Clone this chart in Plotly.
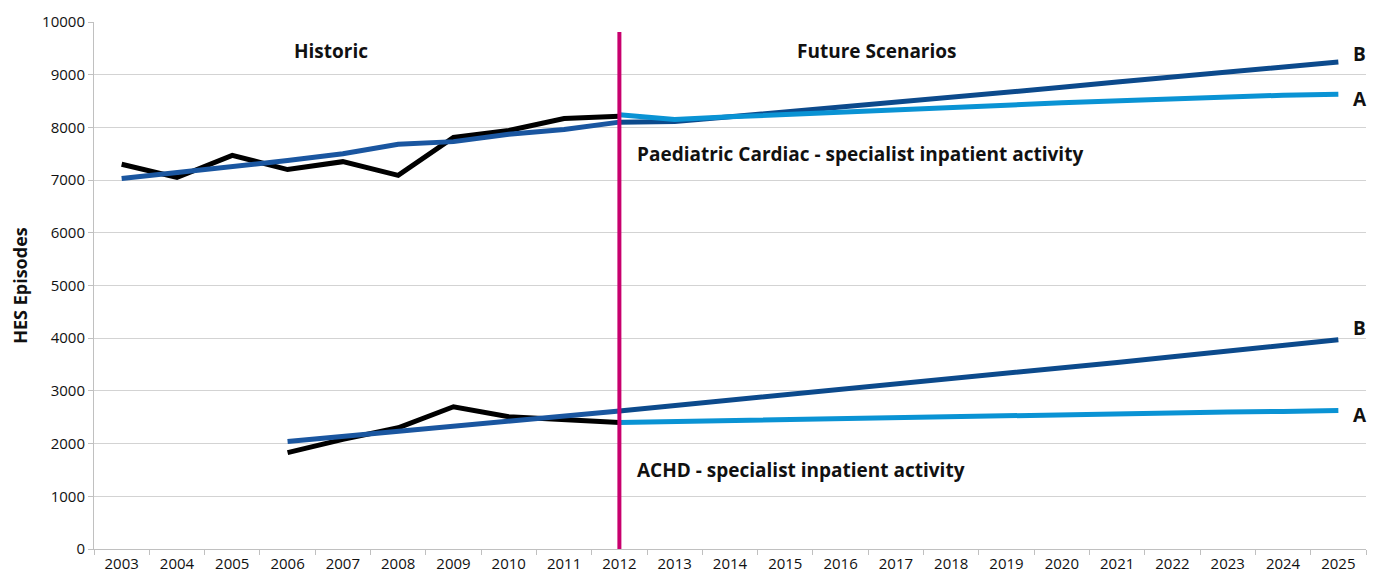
import plotly.graph_objects as go

years = [str(y) for y in range(2003, 2026)]

# Paediatric Cardiac
paed_hist = [7300, 7050, 7470, 7200, 7350, 7090, 7810, 7940, 8170, 8210] + [None] * 13
paed_trend = [7030, 7140, 7240, 7370, 7500, 7680, 7730, 7870, 7960, 8100] + [None] * 13
paed_B = [None] * 9 + [8100, 8110, 8200, 8290, 8380, 8470, 8570, 8660, 8760, 8860, 8960, 9060, 9150, 9240]
paed_A = [None] * 9 + [8240, 8150, 8200, 8240, 8280, 8330, 8370, 8420, 8470, 8510, 8550, 8590, 8610, 8630]

# ACHD
achd_hist = [None] * 3 + [1830, 2080, 2300, 2700, 2510, 2460, 2400] + [None] * 13
achd_trend = [None] * 3 + [2040, 2140, 2240, 2330, 2430, 2530, 2620] + [None] * 13
achd_B = [None] * 9 + [2620, 2720, 2820, 2920, 3020, 3120, 3220, 3330, 3430, 3540, 3650, 3750, 3860, 3970]
achd_A = [None] * 9 + [2400, 2420, 2440, 2460, 2480, 2490, 2510, 2520, 2540, 2560, 2580, 2600, 2610, 2630]

BLACK = "#000000"
TREND = "#1a56a0"
DARK = "#0c4a8c"
LIGHT = "#0a93d4"
MAGENTA = "#c8006e"
W = 5
FAM = "Open Sans, Noto Sans, sans-serif"

fig = go.Figure()
for ys, col in [
    (paed_hist, BLACK), (achd_hist, BLACK),
    (paed_trend, TREND), (achd_trend, TREND),
    (paed_B, DARK), (achd_B, DARK),
    (paed_A, LIGHT), (achd_A, LIGHT),
]:
    fig.add_trace(go.Scatter(x=years, y=ys, mode="lines",
                             line=dict(color=col, width=W),
                             connectgaps=False, showlegend=False, hoverinfo="skip"))

split = years.index("2012")
fig.add_shape(type="line", xref="x", yref="y", x0=split, x1=split, y0=0, y1=9810,
              line=dict(color=MAGENTA, width=4), layer="above")

fnt = dict(family=FAM, size=19, color="#111111", weight="bold")
ann = [
    dict(x=3.78, y=9450, text="Historic", xanchor="center"),
    dict(x=13.66, y=9450, text="Future Scenarios", xanchor="center"),
    dict(x=9.28, y=7490, text="Paediatric Cardiac - specialist inpatient activity", xanchor="left"),
    dict(x=9.28, y=1490, text="ACHD - specialist inpatient activity", xanchor="left"),
    dict(x=22, y=paed_B[-1], text="B", xanchor="left", xshift=13, yshift=8),
    dict(x=22, y=paed_A[-1], text="A", xanchor="left", xshift=13, yshift=-5),
    dict(x=22, y=achd_B[-1], text="B", xanchor="left", xshift=13, yshift=12),
    dict(x=22, y=achd_A[-1], text="A", xanchor="left", xshift=13, yshift=-5),
]
for a in ann:
    fig.add_annotation(xref="x", yref="y", showarrow=False, yanchor="middle", font=fnt, **a)

fig.update_layout(
    width=1368, height=568,
    margin=dict(l=86, r=10, t=14, b=27),
    plot_bgcolor="white", paper_bgcolor="white",
    font=dict(family=FAM, size=15, color="#111111"),
)
fig.update_xaxes(type="category", tickson="boundaries", ticks="outside", ticklen=5,
                 tickcolor="#c0c0c0", showline=True, linecolor="#c0c0c0", linewidth=1,
                 showgrid=False, tickfont=dict(size=15), range=[-0.5, 22.5],
                 ticklabelstandoff=1, automargin=False)
fig.update_yaxes(range=[0, 10000], dtick=1000, tickformat="d", ticks="outside", ticklen=5,
                 tickcolor="#c0c0c0", showline=True, linecolor="#c0c0c0",
                 gridcolor="#d3d3d3", gridwidth=1, zeroline=False,
                 tickfont=dict(size=15), automargin=False,
                 title=dict(text="HES Episodes", standoff=10,
                            font=dict(size=18, weight="bold", family=FAM)))

fig.write_html("out.html")
